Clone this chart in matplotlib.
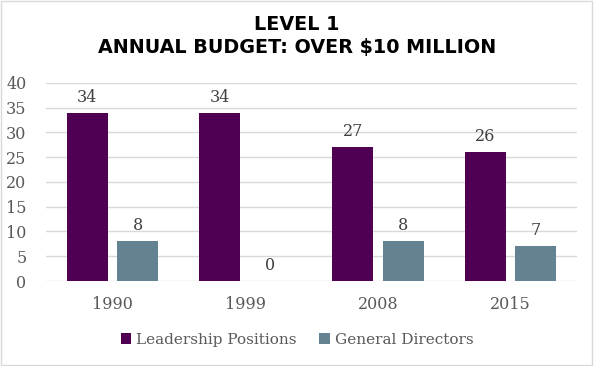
import numpy as np
import matplotlib.pyplot as plt
from matplotlib.patches import Rectangle

years = ['1990', '1999', '2008', '2015']
leadership = [34, 34, 27, 26]
directors = [8, 0, 8, 7]

purple = '#4f0052'
slate = '#638292'
txt = '#595959'

plt.rcParams['font.family'] = 'DejaVu Serif'

fig = plt.figure(figsize=(5.94, 3.66), dpi=100)
ax = fig.add_axes([46/594, 1 - 281/366, (577 - 46)/594, (281 - 83)/366])

x = np.arange(len(years))
w = 0.31
b1 = ax.bar(x - 0.19, leadership, w, color=purple, label='Leadership Positions', zorder=3)
b2 = ax.bar(x + 0.19, directors, w, color=slate, label='General Directors', zorder=3)
for bars in (b1, b2):
    ax.bar_label(bars, padding=5, fontsize=11.5, color='#404040')

ax.set_xlim(-0.5, len(years) - 0.5)
ax.set_ylim(0, 40)
ax.set_yticks(range(0, 41, 5))
ax.set_xticks(x)
ax.set_xticklabels(years)
ax.grid(axis='y', color='#d9d9d9', linewidth=1, zorder=0)
for s in ax.spines.values():
    s.set_visible(False)
ax.tick_params(length=0, colors=txt, labelsize=11.5)
ax.tick_params(axis='x', pad=11)
ax.tick_params(axis='y', pad=14)

fig.text(0.5, 1 - 25/366, 'LEVEL 1', ha='center', va='center', fontsize=13.8,
         fontweight='bold', family='DejaVu Sans', color='black')
fig.text(0.5, 1 - 48/366, 'ANNUAL BUDGET: OVER $10 MILLION', ha='center', va='center',
         fontsize=13.8, fontweight='bold', family='DejaVu Sans', color='black')

leg = fig.legend(loc='center', bbox_to_anchor=(0.5, 1 - 340/366), ncol=2, frameon=False,
                 fontsize=11, handlelength=0.7, handleheight=0.7, handletextpad=0.3,
                 columnspacing=1.5)
for t in leg.get_texts():
    t.set_color(txt)

fig.patches.append(Rectangle((0.002, 0.003), 0.995, 0.993, transform=fig.transFigure,
                             fill=False, edgecolor='#d9d9d9', linewidth=1))

fig.savefig('out.png', dpi=100)
